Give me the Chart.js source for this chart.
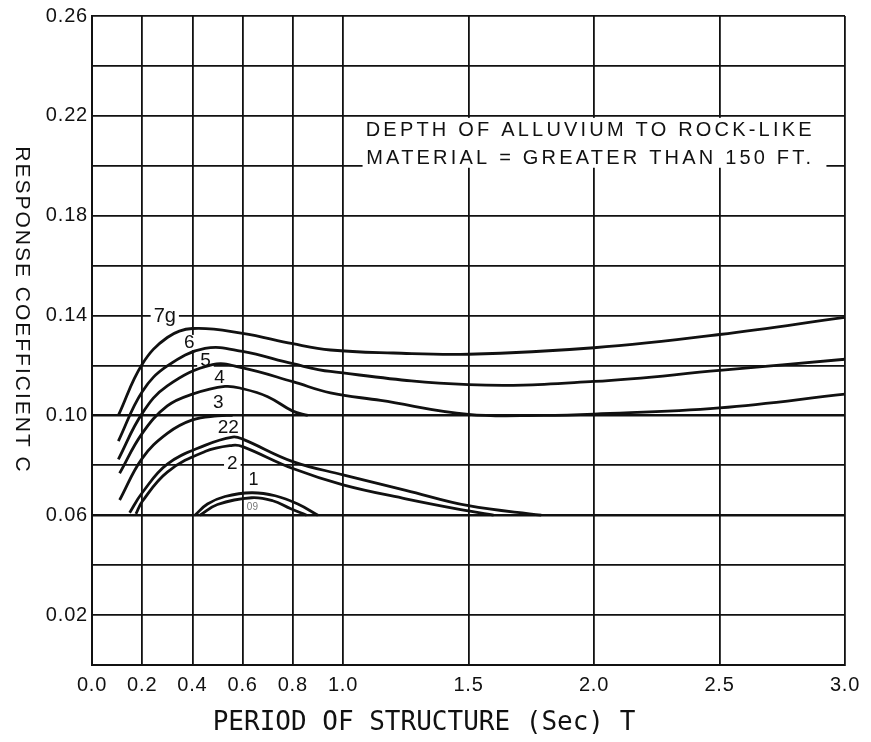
<!DOCTYPE html>
<html lang="en">
<head>
<meta charset="UTF-8" />
<title>Response Coefficient C vs Period of Structure T</title>
<script src="https://cdn.jsdelivr.net/npm/chart.js@4.4.1/dist/chart.umd.min.js"></script>
<style>
  html, body { margin: 0; padding: 0; background: #fff; }
  #wrap { width: 871px; height: 742px; }
</style>
</head>
<body>
<div id="wrap"><canvas id="chart" width="871" height="742"></canvas></div>
<script>
// axis ticks
const xTicks = [0.0, 0.2, 0.4, 0.6, 0.8, 1.0, 1.5, 2.0, 2.5, 3.0];
const yTicks = [0, 0.02, 0.04, 0.06, 0.08, 0.10, 0.12, 0.14, 0.16, 0.18, 0.20, 0.22, 0.24, 0.26];
const yLabelled = [0.02, 0.06, 0.10, 0.14, 0.18, 0.22, 0.26];

// curves: period T (sec) and response coefficient C
const t7g = [0.105, 0.2, 0.3, 0.4, 0.6, 0.8, 0.95, 1.2, 1.5, 2.0, 2.5, 3.0];
const c7g = [0.100, 0.1205, 0.1312, 0.1348, 0.1329, 0.1287, 0.1262, 0.1250, 0.1245, 0.1271, 0.1324, 0.1393];

const t6 = [0.105, 0.2, 0.3, 0.45, 0.6, 0.8, 0.95, 1.5, 2.0, 2.5, 3.0];
const c6 = [0.0897, 0.1095, 0.1198, 0.1268, 0.1256, 0.1207, 0.1176, 0.1123, 0.1136, 0.118, 0.1225];

const t5 = [0.105, 0.2, 0.3, 0.48, 0.6, 0.8, 0.95, 1.15, 1.5, 1.8, 2.0, 2.5, 3.0];
const c5 = [0.0824, 0.1008, 0.1118, 0.1203, 0.119, 0.1135, 0.109, 0.106, 0.1004, 0.100, 0.1005, 0.103, 0.1085];

const t4 = [0.11, 0.2, 0.3, 0.4, 0.53, 0.6, 0.7, 0.8, 0.86];
const c4 = [0.0768, 0.0928, 0.1038, 0.1085, 0.1116, 0.1107, 0.1075, 0.1017, 0.100];

const t3 = [0.11, 0.2, 0.3, 0.4, 0.5, 0.56];
const c3 = [0.0661, 0.0828, 0.0928, 0.0982, 0.0998, 0.100];

const t22 = [0.15, 0.2, 0.3, 0.45, 0.56, 0.6, 0.8, 1.0, 1.25, 1.5, 1.79];
const c22 = [0.061, 0.069, 0.0805, 0.088, 0.0913, 0.0905, 0.0815, 0.0762, 0.070, 0.0638, 0.060];

const t2 = [0.175, 0.2, 0.3, 0.45, 0.56, 0.6, 0.8, 1.0, 1.25, 1.5, 1.6];
const c2 = [0.0605, 0.0655, 0.0773, 0.0855, 0.088, 0.0875, 0.0787, 0.0722, 0.0666, 0.0617, 0.060];

const t1 = [0.41, 0.46, 0.53, 0.636, 0.73, 0.82, 0.9];
const c1 = [0.060, 0.0645, 0.0675, 0.069, 0.0678, 0.0645, 0.060];

const t09 = [0.43, 0.5, 0.636, 0.72, 0.79, 0.855];
const c09 = [0.060, 0.0643, 0.067, 0.0658, 0.0627, 0.060];

const curves = [[t7g, c7g], [t6, c6], [t5, c5], [t4, c4], [t3, c3], [t22, c22], [t2, c2], [t1, c1], [t09, c09]];

const sans = '"Liberation Sans", Arial, Helvetica, sans-serif';
const ink = "#111";

// curve labels, placed in data units
const curveLabels = [
  { text: "7g", t: 0.29, c: 0.1398, size: 20, box: true },
  { text: "6", t: 0.388, c: 0.1292, size: 19, box: true },
  { text: "5", t: 0.452, c: 0.1218, size: 19, box: true },
  { text: "4", t: 0.508, c: 0.1152, size: 19, box: false },
  { text: "3", t: 0.503, c: 0.1052, size: 19, box: false },
  { text: "22", t: 0.543, c: 0.0952, size: 19, box: false },
  { text: "2", t: 0.559, c: 0.0806, size: 19, box: true },
  { text: "1", t: 0.643, c: 0.0742, size: 18, box: false },
  { text: "09", t: 0.639, c: 0.0633, size: 10, box: false, color: "#777" }
];

const noteLines = ["DEPTH OF ALLUVIUM TO ROCK-LIKE", "MATERIAL = GREATER THAN 150 FT."];

const overlay = {
  id: "overlay",
  beforeDraw(chart) {
    // slightly spaced tick lettering, as on the printed chart
    chart.ctx.letterSpacing = "0.8px";
  },
  beforeDatasetsDraw(chart) {
    const { ctx } = chart;
    const xs = chart.scales.x, ys = chart.scales.y;
    ctx.save();
    ctx.fillStyle = "#fff";
    // white field behind the note
    const l = xs.getPixelForValue(1.078), r = xs.getPixelForValue(2.926);
    const t = ys.getPixelForValue(0.2192), b = ys.getPixelForValue(0.1992);
    ctx.fillRect(l, t, r - l, b - t);
    ctx.letterSpacing = "0px";
    curveLabels.forEach(lb => {
      if (!lb.box) return;
      ctx.font = lb.size + "px " + sans;
      const w = ctx.measureText(lb.text).width;
      const px = xs.getPixelForValue(lb.t), py = ys.getPixelForValue(lb.c);
      ctx.fillRect(px - w / 2 - 3, py - lb.size * 0.4, w + 6, lb.size * 0.8);
    });
    ctx.restore();
  },
  afterDatasetsDraw(chart) {
    const { ctx } = chart;
    const xs = chart.scales.x, ys = chart.scales.y;
    ctx.save();
    ctx.textAlign = "center";
    ctx.textBaseline = "middle";
    ctx.letterSpacing = "0px";
    curveLabels.forEach(lb => {
      ctx.font = lb.size + "px " + sans;
      ctx.fillStyle = lb.color || ink;
      ctx.fillText(lb.text, xs.getPixelForValue(lb.t), ys.getPixelForValue(lb.c));
    });
    ctx.fillStyle = ink;
    ctx.font = "20px " + sans;
    ctx.letterSpacing = "3.2px";
    const nx = xs.getPixelForValue(1.985);
    ctx.fillText(noteLines[0], nx, ys.getPixelForValue(0.214));
    ctx.fillText(noteLines[1], nx, ys.getPixelForValue(0.203));
    ctx.restore();
  },
  afterDraw(chart) {
    const { ctx } = chart;
    ctx.save();
    ctx.fillStyle = ink;
    ctx.textAlign = "center";
    ctx.textBaseline = "middle";
    // y title, reading downwards
    ctx.translate(22, 310);
    ctx.rotate(Math.PI / 2);
    ctx.font = "21px " + sans;
    ctx.letterSpacing = "2px";
    ctx.fillText("RESPONSE COEFFICIENT C", 0, 0);
    ctx.restore();

    ctx.save();
    ctx.fillStyle = ink;
    ctx.textAlign = "center";
    ctx.textBaseline = "middle";
    ctx.letterSpacing = "0px";
    ctx.font = '26px "DejaVu Sans Mono", monospace';
    ctx.fillText("PERIOD OF STRUCTURE (Sec) T", 424, 723);
    ctx.restore();
    ctx.letterSpacing = "0px";
  }
};

const isHeavy = v => Math.abs(v - 0.06) < 1e-6 || Math.abs(v - 0.10) < 1e-6;

new Chart(document.getElementById("chart"), {
  type: "line",
  data: {
    datasets: curves.map(([t, c]) => ({
      data: t.map((v, i) => ({ x: v, y: c[i] })),
      borderColor: ink,
      borderWidth: 2.8,
      pointRadius: 0,
      fill: false,
      tension: 0.4
    }))
  },
  options: {
    responsive: false,
    animation: false,
    devicePixelRatio: 1,
    layout: { padding: { left: 0, top: 15, right: 26, bottom: 0 } },
    plugins: { legend: { display: false }, tooltip: { enabled: false } },
    scales: {
      x: {
        type: "linear",
        min: 0,
        max: 3,
        afterBuildTicks: s => { s.ticks = xTicks.map(v => ({ value: v })); },
        afterFit: s => { s.height = 77; },
        grid: { color: ink, lineWidth: 1.8, drawTicks: false },
        border: { color: ink, width: 2 },
        ticks: {
          autoSkip: false,
          maxRotation: 0,
          padding: 8,
          color: ink,
          font: { family: sans, size: 20 },
          callback: v => v.toFixed(1)
        }
      },
      y: {
        min: 0,
        max: 0.26,
        afterBuildTicks: s => { s.ticks = yTicks.map(v => ({ value: v })); },
        afterFit: s => { s.width = 92; },
        grid: {
          color: ink,
          drawTicks: false,
          lineWidth: c => (c.tick && isHeavy(c.tick.value)) ? 2.6 : 1.8
        },
        border: { color: ink, width: 2 },
        ticks: {
          autoSkip: false,
          padding: 4,
          color: ink,
          font: { family: sans, size: 20 },
          callback: v => yLabelled.some(y => Math.abs(y - v) < 1e-6) ? v.toFixed(2) : ""
        }
      }
    }
  },
  plugins: [overlay]
});
</script>
</body>
</html>
